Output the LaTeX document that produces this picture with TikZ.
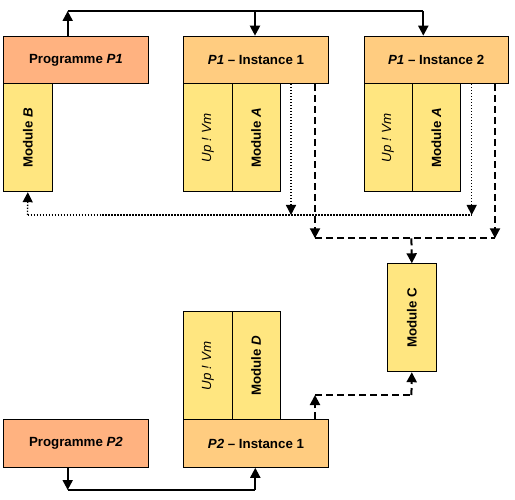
\documentclass[tikz,border=0pt]{standalone}
\usepackage{fontspec}
\usepackage{graphicx}
\setmainfont{Liberation Sans}
\usetikzlibrary{arrows.meta}
\definecolor{progc}{RGB}{255,178,128}
\definecolor{instc}{RGB}{255,204,128}
\definecolor{modc}{RGB}{255,230,128}
\begin{document}
\begin{tikzpicture}[x=1pt,y=-1pt,
  box/.style={draw=black,line width=0.9pt,inner sep=0pt,anchor=north west,
    font=\fontsize{13.3}{16}\selectfont\bfseries},
  progbox/.style={box,fill=progc,minimum width=144.4pt,minimum height=47.6pt},
  instbox/.style={box,fill=instc,minimum width=144.4pt,minimum height=47.6pt},
  modbox/.style={box,fill=modc,minimum width=48.2pt,minimum height=108pt},
  solidl/.style={line width=2pt},
  dotl/.style={line width=1.3pt,dash pattern=on 1.3pt off 1.7pt},
  dashl/.style={line width=2pt,dash pattern=on 7pt off 4pt},
  tip/.style={-{Triangle[width=10pt,length=10pt]}}]
\useasboundingbox (0,0) rectangle (515,500);
% boxes
\node[progbox] (prog1) at (3.3,35.7) {Programme \textit{P1}};
\node[modbox] (modB) at (3.3,83.3) {\rotatebox{90}{Module \textit{B}}};
\node[instbox] (inst1) at (183.3,35.7) {\textit{P1} -- Instance 1};
\node[modbox] (up1) at (183.3,83.3) {\rotatebox{90}{\mdseries\itshape Up ! Vm}};
\node[modbox] (modA1) at (231.5,83.3) {\rotatebox{90}{Module \textit{A}}};
\node[instbox] (inst2) at (363.5,35.7) {\textit{P1} -- Instance 2};
\node[modbox] (up2) at (363.5,83.3) {\rotatebox{90}{\mdseries\itshape Up ! Vm}};
\node[modbox] (modA2) at (411.7,83.3) {\rotatebox{90}{Module \textit{A}}};
\node[modbox] (modC) at (387.3,263.3) {\rotatebox{90}{Module C}};
\node[modbox] (up3) at (183.3,311.3) {\rotatebox{90}{\mdseries\itshape Up ! Vm}};
\node[modbox] (modD) at (231.5,311.3) {\rotatebox{90}{Module \textit{D}}};
\node[instbox] (inst3) at (183.3,419.3) {\textit{P2} -- Instance 1};
\node[progbox] (prog2) at (3.3,419.3) {Programme \textit{P2}};
% top solid connector
\coordinate (t0) at (67.7,11);
\coordinate (t1) at (255,11);
\coordinate (t2) at (423.3,11);
\draw[solidl,tip] (t0 |- prog1.north) -- (t0);
\draw[solidl] (t0) -- (t2);
\draw[solidl,tip] (t1) -- (t1 |- inst1.north);
\draw[solidl,tip] (t2) -- (t2 |- inst2.north);
% dotted connector
\coordinate (d0) at (27.5,215);
\coordinate (d1) at (291,215);
\coordinate (d2) at (471.7,215);
\draw[dotl,tip] (d1 |- inst1.south) -- (d1);
\draw[dotl,tip] (d2 |- inst2.south) -- (d2);
\draw[dotl] (d0) -- (d2);
\draw[dotl,tip] (d0) -- (modB.south);
% dashed connector to module C
\coordinate (e1) at (315,238.3);
\coordinate (e2) at (495,238.3);
\coordinate (e3) at (411.4,238.3);
\draw[dashl,tip] (e1 |- inst1.south) -- (e1);
\draw[dashl,tip] (e2 |- inst2.south) -- (e2);
\draw[dashl] (e1) -- (e2);
\draw[dashl,tip] (e3) -- (modC.north);
% dashed connector from P2 instance
\coordinate (f1) at (315,395);
\coordinate (f2) at (411.4,395);
\draw[dashl,tip] (f1 |- inst3.north) -- (f1);
\draw[dashl] (f1) -- (f2);
\draw[dashl,tip] (f2) -- (modC.south);
% bottom solid connector
\coordinate (b0) at (67.7,490);
\coordinate (b1) at (255.3,490);
\draw[solidl,tip] (b0 |- prog2.south) -- (b0);
\draw[solidl] (b0) -- (b1);
\draw[solidl,tip] (b1) -- (b1 |- inst3.south);
\end{tikzpicture}
\end{document}
